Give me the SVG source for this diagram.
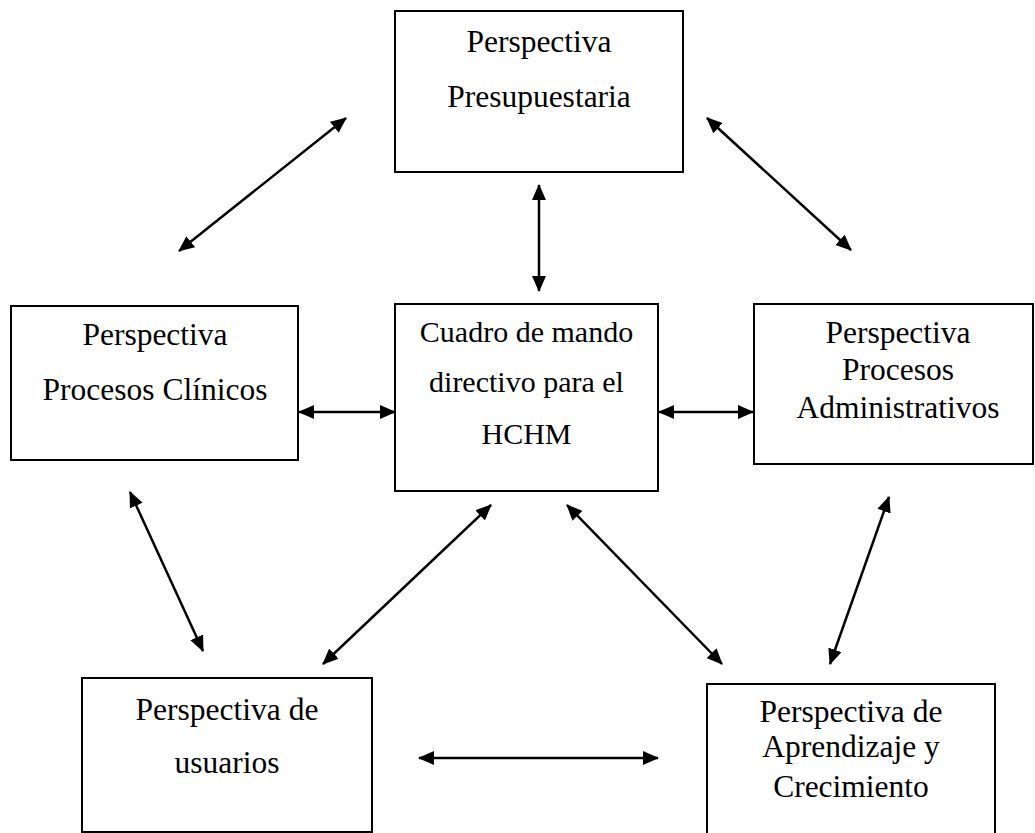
<svg xmlns="http://www.w3.org/2000/svg" width="1035" height="833" viewBox="0 0 1035 833">
  <style>
    .box { fill: #ffffff; stroke: #000000; stroke-width: 2; }
    .lbl { font-family: "Liberation Serif", "Times New Roman", serif; font-size: 31.5px; fill: #000000; text-anchor: middle; }
    .lbl-sm { font-size: 30px; }
    .link { fill: none; stroke: #000000; stroke-width: 2.5; marker-start: url(#tip); marker-end: url(#tip); }
  </style>
  <defs>
    <marker id="tip" markerUnits="userSpaceOnUse" markerWidth="16" markerHeight="14" refX="15" refY="7" orient="auto-start-reverse" viewBox="0 0 16 14">
      <path d="M0,0 L16,7 L0,14 Z" fill="#000000"/>
    </marker>
  </defs>
  <rect width="1035" height="833" fill="#ffffff"/>

  <g id="node-presupuestaria">
    <rect class="box" x="395" y="11" width="288" height="161"/>
    <text class="lbl" x="539" y="52">Perspectiva</text>
    <text class="lbl" x="539" y="107">Presupuestaria</text>
  </g>

  <g id="node-procesos-clinicos">
    <rect class="box" x="11" y="306" width="287" height="154"/>
    <text class="lbl" x="155" y="345">Perspectiva</text>
    <text class="lbl" x="155" y="400">Procesos Clínicos</text>
  </g>

  <g id="node-cuadro-mando">
    <rect class="box" x="395" y="304" width="263" height="187"/>
    <text class="lbl lbl-sm" x="526.5" y="342">Cuadro de mando</text>
    <text class="lbl lbl-sm" x="526.5" y="392">directivo para el</text>
    <text class="lbl lbl-sm" x="526.5" y="444">HCHM</text>
  </g>

  <g id="node-procesos-administrativos">
    <rect class="box" x="754" y="304" width="279" height="160"/>
    <text class="lbl" x="898" y="343">Perspectiva</text>
    <text class="lbl" x="898" y="380">Procesos</text>
    <text class="lbl" x="898" y="418">Administrativos</text>
  </g>

  <g id="node-usuarios">
    <rect class="box" x="82" y="678" width="290" height="154"/>
    <text class="lbl" x="227" y="720">Perspectiva de</text>
    <text class="lbl" x="227" y="773">usuarios</text>
  </g>

  <g id="node-aprendizaje">
    <rect class="box" x="707" y="684" width="288" height="160"/>
    <text class="lbl" x="851" y="722">Perspectiva de</text>
    <text class="lbl" x="851" y="757">Aprendizaje y</text>
    <text class="lbl" x="851" y="797">Crecimiento</text>
  </g>

  <g id="connectors">
    <line class="link" x1="179" y1="251" x2="346" y2="118"/>
    <line class="link" x1="707" y1="118" x2="851" y2="250"/>
    <line class="link" x1="539" y1="185" x2="539" y2="291"/>
    <line class="link" x1="299" y1="412" x2="395" y2="412"/>
    <line class="link" x1="659" y1="412" x2="753" y2="412"/>
    <line class="link" x1="130" y1="492" x2="203" y2="651"/>
    <line class="link" x1="491" y1="505" x2="323" y2="664"/>
    <line class="link" x1="567" y1="505" x2="722" y2="664"/>
    <line class="link" x1="889" y1="497" x2="830" y2="664"/>
    <line class="link" x1="419" y1="758" x2="658" y2="758"/>
  </g>
</svg>
